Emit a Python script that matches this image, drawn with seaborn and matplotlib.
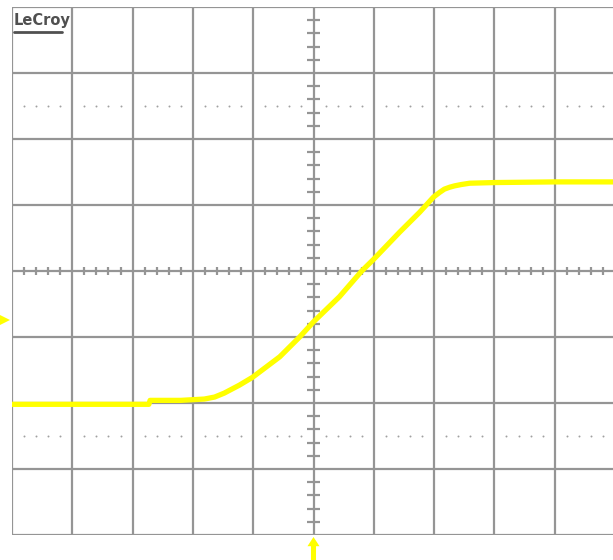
import numpy as np
import matplotlib
matplotlib.use("Agg")
import matplotlib.pyplot as plt
import seaborn as sns
import pandas as pd
from matplotlib.lines import Line2D

# Waveform, in screen divisions (10 horizontal x 8 vertical)
time_div = [-5.0, -4.0, -3.0, -2.73, -2.71, -2.2, -1.81, -1.64, -1.48, -1.23,
            -1.01, -0.56, -0.23, 0.0, 0.43, 0.80, 1.0, 1.43, 1.76, 1.99,
            2.09, 2.17, 2.26, 2.34, 2.45, 2.59, 3.0, 4.0, 5.0]
level_div = [-2.02, -2.02, -2.02, -2.02, -1.96, -1.96, -1.94, -1.91, -1.85, -1.73,
             -1.61, -1.30, -1.00, -0.77, -0.39, 0.0, 0.18, 0.59, 0.89, 1.12,
             1.19, 1.24, 1.27, 1.29, 1.31, 1.33, 1.34, 1.35, 1.35]
ground_marker_div = -0.74
trigger_pos_div = 0.0
brand = "LeCroy"

sns.set_theme(style="white")
plt.rcParams["font.family"] = ["DejaVu Sans"]

fig = plt.figure(figsize=(6.13, 5.60), dpi=100)
fig.patch.set_facecolor("white")
W, H = 613, 560
ax = fig.add_axes([12 / W, 25 / H, 603 / W, 528 / H])
ax.set_facecolor("white")
ax.set_xlim(-5, 5)
ax.set_ylim(-4, 4)

grid_c = "#959595"
# major graticule
for xv in np.arange(-5, 6):
    ax.axvline(xv, color=grid_c, lw=1.6, zorder=1)
for yv in np.arange(-4, 5):
    ax.axhline(yv, color=grid_c, lw=1.6, zorder=1)
for s in ax.spines.values():
    s.set_visible(False)
ax.set_xticks([])
ax.set_yticks([])

# minor ticks along the centre axes
minor_x = np.array([v for v in np.arange(-5, 5.01, 0.2) if abs(v - round(v)) > 1e-6])
minor_y = np.array([v for v in np.arange(-4, 4.01, 0.2) if abs(v - round(v)) > 1e-6])
ax.vlines(minor_x, -0.065, 0.065, color=grid_c, lw=1.6, zorder=1)
ax.hlines(minor_y, -0.105, 0.105, color=grid_c, lw=1.6, zorder=1)

# dotted reference rows
for yv in (2.5, -2.5):
    ax.scatter(minor_x, np.full_like(minor_x, yv), s=2, color="#a0a0a0",
               linewidths=0, zorder=1)

# trace
df = pd.DataFrame({"t": time_div, "v": level_div})
sns.lineplot(data=df, x="t", y="v", ax=ax, color="#ffff00", lw=3.8,
             sort=False, zorder=3)
ax.set_xlabel("")
ax.set_ylabel("")

# channel ground marker on the left edge
ax.plot([-5.13], [ground_marker_div], marker=">", ms=8, color="#ffff00",
        markeredgewidth=0, clip_on=False, zorder=4)

# trigger position arrow below the graticule
tp = trigger_pos_div
arrow_x = [tp, tp + 0.1, tp + 0.042, tp + 0.042, tp - 0.042, tp - 0.042, tp - 0.1]
arrow_y = [-4.03, -4.17, -4.17, -4.40, -4.40, -4.17, -4.17]
ax.fill(arrow_x, arrow_y, color="#ffff00", lw=0, clip_on=False, zorder=4)

# brand logo
fig.text(14 / W, 1 - 25 / H, brand, fontsize=10.5, fontweight="bold",
         color="#505050", ha="left", va="baseline")
fig.add_artist(Line2D([14 / W, 62 / W], [1 - 31.5 / H, 1 - 31.5 / H],
                      color="#505050", lw=2.0))

fig.savefig("out.png", dpi=100, facecolor="white")
